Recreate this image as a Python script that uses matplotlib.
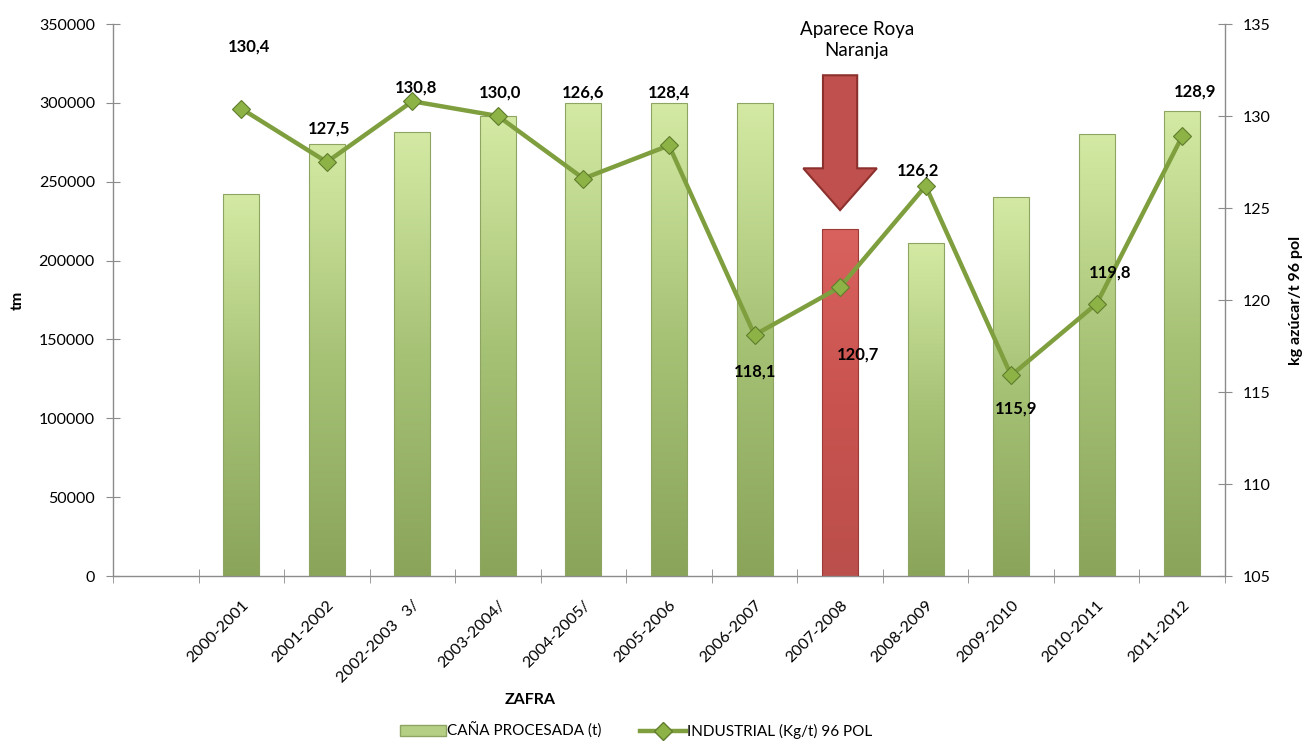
import matplotlib
matplotlib.use("Agg")
import matplotlib.pyplot as plt
import numpy as np
from matplotlib.patches import Polygon, Patch
from matplotlib.lines import Line2D
from matplotlib.colors import LinearSegmentedColormap

plt.rcParams['font.family'] = ['Lato', 'DejaVu Sans']

categories = ["", "2000-2001", "2001-2002", "2002-2003   3/", "2003-2004/", "2004-2005/",
              "2005-2006", "2006-2007", "2007-2008", "2008-2009", "2009-2010",
              "2010-2011", "2011-2012"]
cana = [None, 242000, 274000, 281500, 291500, 300000, 300000, 300000, 220000,
        211000, 240000, 280000, 295000]
industrial = [None, 130.4, 127.5, 130.8, 130.0, 126.6, 128.4, 118.1, 120.7,
              126.2, 115.9, 119.8, 128.9]
label_texts = ["", "130,4", "127,5", "130,8", "130,0", "126,6", "128,4", "118,1",
               "120,7", "126,2", "115,9", "119,8", "128,9"]
# label offsets in pixels (dx, dy)
label_offsets = [(0, 0), (8, 62), (2, 33), (4, 14), (2, 23), (0, 86), (0, 53),
                 (1, -37), (18, -67), (-8, 15), (5, -33), (13, 31), (13, 45)]
highlight = "2007-2008"

W, H = 1307, 741
fig = plt.figure(figsize=(W / 100, H / 100), dpi=100)
ax = fig.add_axes([113 / W, 1 - 576 / H, (1225 - 113) / W, (576 - 24) / H])
ax2 = ax.twinx()

x = np.arange(len(categories))
green_cmap = LinearSegmentedColormap.from_list("g", ["#8aa55a", "#a6c275", "#d4eaa4"])
red_cmap = LinearSegmentedColormap.from_list("r", ["#bb4f4b", "#c9534f", "#d9625e"])
grad = np.linspace(0, 1, 256).reshape(-1, 1)

bw = 0.42
for i, (c, v) in enumerate(zip(categories, cana)):
    if v is None:
        continue
    is_red = (c == highlight)
    edge = "#9b3a37" if is_red else "#8ea462"
    bars = ax.bar(i, v, width=bw, color="none", edgecolor=edge, linewidth=0.8, zorder=3)
    patch = bars[0]
    im = ax.imshow(grad, extent=[i - bw / 2, i + bw / 2, 0, v], origin="lower",
                   cmap=red_cmap if is_red else green_cmap, aspect="auto", zorder=2)
    im.set_clip_path(patch)

ax.set_xlim(-0.5, len(categories) - 0.5)
ax.set_ylim(0, 350000)
ax.set_yticks(np.arange(0, 350001, 50000))
ax.set_yticklabels([str(v) for v in range(0, 350001, 50000)])

# arrow annotation
ai = categories.index(highlight)
arrow = Polygon([(ai - 0.2, 317500), (ai + 0.2, 317500), (ai + 0.2, 258500),
                 (ai + 0.43, 258500), (ai, 232000), (ai - 0.43, 258500),
                 (ai - 0.2, 258500)], closed=True, facecolor="#c0504d",
                edgecolor="#8c302d", linewidth=1.5, zorder=4)
ax.add_patch(arrow)
fig.text(857 / W, 1 - 40 / H, "Aparece Roya\nNaranja", ha="center", va="center",
         fontsize=13.5, linespacing=1.3)

# line
xs = [i for i, v in enumerate(industrial) if v is not None]
ys = [v for v in industrial if v is not None]
ax2.plot(xs, ys, color="#7f9f3f", linewidth=3.2, marker="D", markersize=9,
         markerfacecolor="#8db246", markeredgecolor="#5f7d2c", markeredgewidth=0.8,
         zorder=5)
ax2.set_ylim(105, 135)
ax2.set_yticks(np.arange(105, 136, 5))
for i in xs:
    dx, dy = label_offsets[i]
    ax2.annotate(label_texts[i], (i, industrial[i]), xytext=(dx, dy),
                 textcoords="offset pixels", ha="center", va="center",
                 fontsize=12, fontweight="bold", zorder=6)

# axis styling
for a in (ax, ax2):
    a.spines["top"].set_visible(False)
    for s in ("left", "right", "bottom"):
        a.spines[s].set_color("#8c8c8c")
        a.spines[s].set_linewidth(1.0)
ax.spines["right"].set_visible(False)
ax2.spines["left"].set_visible(False)
ax2.spines["bottom"].set_visible(False)

ax.tick_params(axis="y", direction="inout", length=10, color="#8c8c8c",
               labelsize=11.5, pad=8)
ax2.tick_params(axis="y", direction="inout", length=10, color="#8c8c8c",
                labelsize=11.5, pad=8)

ax.set_xticks(x)
ax.set_xticklabels(categories, rotation=45, ha="right", rotation_mode="anchor",
                   fontsize=11.5)
ax.tick_params(axis="x", which="major", length=0, pad=16)
ax.set_xticks(np.arange(-0.5, len(categories), 1), minor=True)
ax.tick_params(axis="x", which="minor", direction="inout", length=10, color="#8c8c8c")

fig.text(18 / W, 1 - 300 / H, "tm", rotation=90, ha="center", va="center",
         fontsize=11.5, fontweight="bold")
fig.text(1296 / W, 1 - 300 / H, "kg azúcar/t 96 pol", rotation=90, ha="center",
         va="center", fontsize=11.5, fontweight="bold")
fig.text(530 / W, 1 - 700 / H, "ZAFRA", ha="center", va="center",
         fontsize=11.5, fontweight="bold")

handles = [Patch(facecolor="#b5d084", edgecolor="#8ea462"),
           Line2D([0], [0], color="#7f9f3f", linewidth=3.2, marker="D", markersize=9,
                  markerfacecolor="#8db246", markeredgecolor="#5f7d2c")]
fig.legend(handles, ["CAÑA PROCESADA (t)", "INDUSTRIAL (Kg/t) 96 POL"],
           loc="center", bbox_to_anchor=(636 / W, 1 - 731 / H), ncol=2,
           frameon=False, fontsize=11, handlelength=3.0, handletextpad=0.1,
           columnspacing=2.5, handleheight=0.7)

fig.savefig("out.png", dpi=100)
